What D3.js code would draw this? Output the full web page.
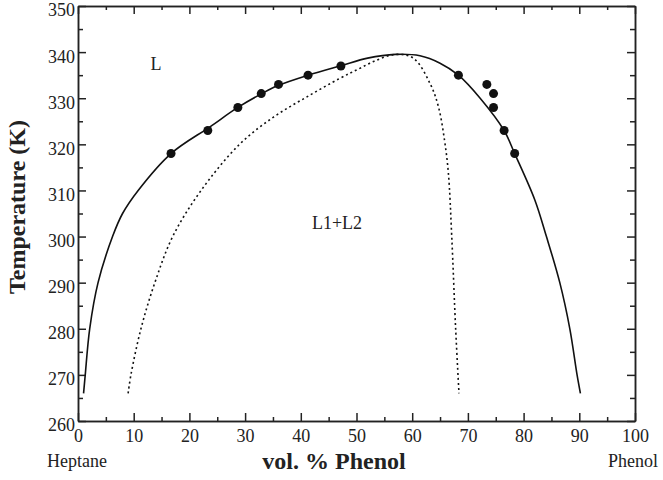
<!doctype html>
<html>
<head>
  <meta charset="utf-8">
  <title>Heptane - Phenol</title>
  <style type="text/css">
    body{ margin:0; background:#fff; }
    text{ font-family:"Liberation Serif","Times New Roman",serif; fill:#222; }
    .axis path, .axis line{ stroke:#222; stroke-width:1.5; }
    .axis text{ font-size:18px; }
  </style>
</head>
<body>
  <div id="vis"></div>
  <script src="https://cdn.jsdelivr.net/npm/d3@7"></script>
  <script type="text/javascript">

    // measured points (vol. % phenol, K)
    var pointsX = [16.7, 23.3, 28.7, 32.9, 36.0, 41.3, 47.2, 68.3, 73.4, 74.6, 74.6, 76.5, 78.4],
      pointsT = [318, 323, 328, 331, 333, 335, 337, 335, 333, 331, 328, 323, 318];

    // binodal (solid)
    var binodalX = [1.0, 1.3, 2.1, 3.6, 6.2, 8.0, 10.8, 16.7, 23.7, 28.7, 33.0, 36.0, 41.3, 47.3, 52.0, 57.0, 61.4, 65.0, 68.3, 72.2, 76.5, 78.4, 82.0, 84.1, 86.5, 88.3, 89.6, 90.2],
      binodalT = [266, 270, 280, 290, 300, 305, 310, 318, 323.8, 328, 331, 332.8, 335, 337.1, 338.7, 339.5, 339.2, 337.6, 335, 330, 323, 318, 308, 300, 290, 280, 270, 266];

    // spinodal (dotted)
    var spinodalX = [9.0, 9.5, 11.3, 13.8, 17.0, 22.1, 29.0, 35.1, 41.1, 47.0, 50.3, 53.5, 57.0, 60.2, 63.2, 64.7, 65.8, 66.5, 67.1, 67.8, 68.4],
      spinodalT = [266, 270, 280, 290, 300, 310, 320, 325.9, 330.3, 334.3, 336.3, 338.2, 339.5, 338.7, 333.2, 328.2, 320.9, 313.7, 300, 280, 266];

    var xMajor = d3.range(0, 101, 10), xMinor = d3.range(5, 100, 10),
      yMajor = d3.range(260, 351, 10), yMinor = d3.range(265, 350, 10);

    var width = 663, height = 480;
    var padLeft = 78, padRight = 635, padTop = 6, padBottom = 421;

    var svg = d3.select('#vis').append('svg').attr('width', width).attr('height', height);

    var x = d3.scaleLinear().domain([0, 100]).range([padLeft, padRight]);
    var y = d3.scaleLinear().domain([260, 350]).range([padBottom, padTop]);

    // axes, ticks inward on all four sides
    svg.append('g').attr('class','axis').attr('transform','translate(0,'+padBottom+')')
      .call(d3.axisBottom(x).tickValues(xMajor).tickSize(-8).tickSizeOuter(0).tickPadding(8));
    svg.append('g').attr('class','axis').attr('transform','translate(0,'+padBottom+')')
      .call(d3.axisBottom(x).tickValues(xMinor).tickSize(-4).tickSizeOuter(0).tickFormat(''));
    svg.append('g').attr('class','axis').attr('transform','translate(0,'+padTop+')')
      .call(d3.axisTop(x).tickValues(xMajor).tickSize(-8).tickSizeOuter(0).tickFormat(''));
    svg.append('g').attr('class','axis').attr('transform','translate(0,'+padTop+')')
      .call(d3.axisTop(x).tickValues(xMinor).tickSize(-4).tickSizeOuter(0).tickFormat(''));

    var yl = svg.append('g').attr('class','axis').attr('transform','translate('+padLeft+',0)')
      .call(d3.axisLeft(y).tickValues(yMajor).tickSize(-8).tickSizeOuter(0).tickPadding(3));
    yl.selectAll('text').attr('dy','0.55em');
    svg.append('g').attr('class','axis').attr('transform','translate('+padLeft+',0)')
      .call(d3.axisLeft(y).tickValues(yMinor).tickSize(-5).tickSizeOuter(0).tickFormat(''));
    svg.append('g').attr('class','axis').attr('transform','translate('+padRight+',0)')
      .call(d3.axisRight(y).tickValues(yMajor).tickSize(-8).tickSizeOuter(0).tickFormat(''));
    svg.append('g').attr('class','axis').attr('transform','translate('+padRight+',0)')
      .call(d3.axisRight(y).tickValues(yMinor).tickSize(-5).tickSizeOuter(0).tickFormat(''));

    svg.selectAll('.axis text').style('fill','#222').style('font-family','"Liberation Serif","Times New Roman",serif');

    var line = d3.line()
      .x(function(d){ return x(d[0]); })
      .y(function(d){ return y(d[1]); })
      .curve(d3.curveCatmullRom.alpha(0.5));

    svg.append('path')
      .attr('d', line(d3.zip(binodalX, binodalT)))
      .style('fill','none').style('stroke','#111').style('stroke-width',1.6);

    svg.append('path')
      .attr('d', line(d3.zip(spinodalX, spinodalT)))
      .style('fill','none').style('stroke','#111').style('stroke-width',1.6)
      .style('stroke-dasharray','2,3');

    svg.selectAll('circle').data(d3.zip(pointsX, pointsT)).enter().append('circle')
      .attr('cx', function(d){ return x(d[0]); })
      .attr('cy', function(d){ return y(d[1]); })
      .attr('r', 4.5)
      .style('fill','#111');

    // region labels
    svg.append('text').attr('x', x(13)).attr('y', y(336.1)).style('font-size','18px').text('L');
    svg.append('text').attr('x', x(42)).attr('y', y(301.6)).style('font-size','18px').text('L1+L2');

    // axis titles
    svg.append('text').attr('x', 47).attr('y', 467).style('font-size','18px').text('Heptane');
    svg.append('text').attr('x', 608).attr('y', 467).style('font-size','18px').text('Phenol');
    svg.append('text').attr('x', 334).attr('y', 469)
      .attr('text-anchor','middle').style('font-size','24px').style('font-weight','bold')
      .text('vol. % Phenol');
    svg.append('text')
      .attr('transform','translate(25,207) rotate(-90)')
      .attr('text-anchor','middle').style('font-size','24px').style('font-weight','bold')
      .text('Temperature (K)');

  </script>
</body>
</html>
